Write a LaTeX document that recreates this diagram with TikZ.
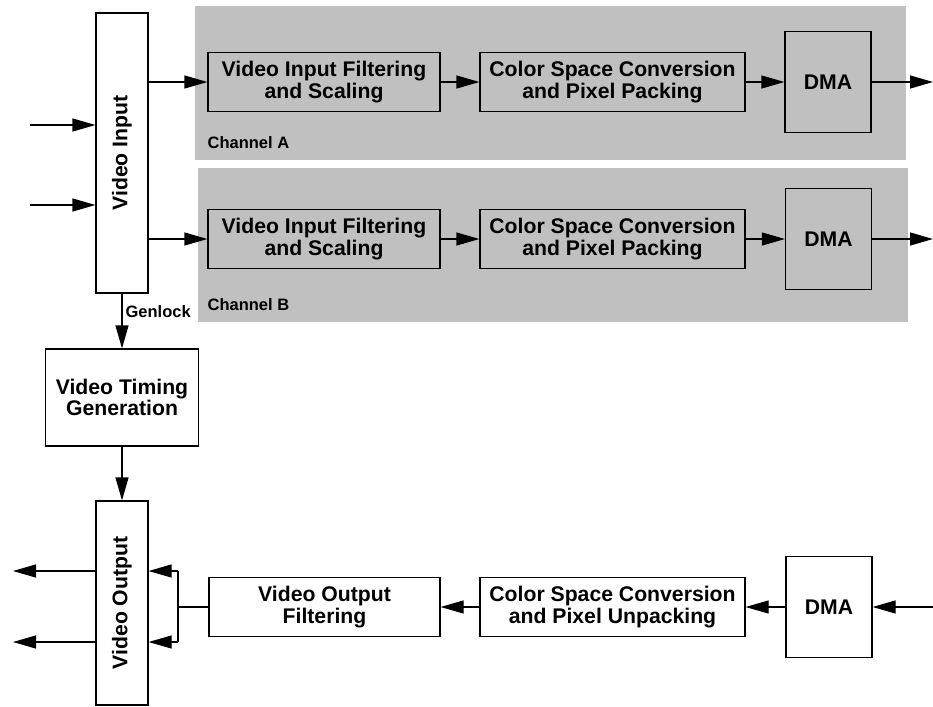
\documentclass[tikz,border=0pt]{standalone}
\usepackage{fontspec}
\setmainfont{Liberation Sans}
\usetikzlibrary{arrows.meta}
\definecolor{changray}{RGB}{192,192,192}

\begin{document}
\begin{tikzpicture}[x=1pt,y=-1pt,>={Triangle[length=23pt,width=13pt]},line width=1.2pt,
    box/.style={draw, rectangle, inner sep=0pt, align=center, font=\bfseries\fontsize{21.2}{21.3}\selectfont},
    chan/.style={fill=changray, rectangle, inner sep=0pt},
    lbl/.style={font=\bfseries\fontsize{16.5}{18}\selectfont, inner sep=0pt}]
        \useasboundingbox (0,0) rectangle (933,706);
        % channel backgrounds
        \node (chA) [chan, minimum width=711, minimum height=154] at (550.5,83) {};
        \node (chB) [chan, minimum width=710, minimum height=154] at (553,245) {};
        \node [lbl, anchor=base west] at (207,148) {Channel A};
        \node [lbl, anchor=base west] at (207,310) {Channel B};

        \node (vin) [box, minimum width=52, minimum height=280] at (122,153) {\rotatebox{90}{Video Input}};
        \node (vifA) [box, minimum width=232, minimum height=59] at (324,82) {Video Input Filtering\\and Scaling};
        \node (cscA) [box, minimum width=265, minimum height=59] at (612.5,82) {Color Space Conversion\\and Pixel Packing};
        \node (dmaA) [box, minimum width=86, minimum height=101] at (828,82) {DMA};
        \node (vifB) [box, minimum width=232, minimum height=59] at (324,239) {Video Input Filtering\\and Scaling};
        \node (cscB) [box, minimum width=265, minimum height=59] at (612.5,239) {Color Space Conversion\\and Pixel Packing};
        \node (dmaB) [box, minimum width=86, minimum height=101] at (828.5,239) {DMA};

        \node (vtg) [box, minimum width=153, minimum height=97] at (122,397.5) {Video Timing\\Generation};
        \node (vout) [box, minimum width=52, minimum height=204] at (122,603) {\rotatebox{90}{Video Output}};
        \node (vof) [box, minimum width=231, minimum height=59] at (324.5,607) {Video Output\\Filtering};
        \node (csc) [box, minimum width=265, minimum height=59] at (612.5,607) {Color Space Conversion\\and Pixel Unpacking};
        \node (dma) [box, minimum width=86, minimum height=101] at (829,607) {DMA};

        % free ends
        \coordinate (inA) at (30,125);
        \coordinate (inB) at (30,205);
        \coordinate (outA) at (933,82);
        \coordinate (outB) at (933,239);
        \coordinate (oA) at (13,571);
        \coordinate (oB) at (13,642);
        \coordinate (brA) at (178,571);
        \coordinate (brB) at (178,642);
        \coordinate (in) at (933,607);

        \draw[->] (inA) -- (inA -| vin.west);
        \draw[->] (inB) -- (inB -| vin.west);
        \draw[->] (vin.east |- vifA.west) -- (vifA.west);
        \draw[->] (vifA) -- (cscA);
        \draw[->] (cscA) -- (dmaA);
        \draw[->] (dmaA) -- (outA);
        \draw[->] (vin.east |- vifB.west) -- (vifB.west);
        \draw[->] (vifB) -- (cscB);
        \draw[->] (cscB) -- (dmaB);
        \draw[->] (dmaB) -- (outB);

        \draw[->] (vin) -- node[lbl, right, pos=0.32, xshift=3pt] {Genlock} (vtg);
        \draw[->] (vtg) -- (vout);

        \draw[->] (in) -- (dma);
        \draw[->] (dma) -- (csc);
        \draw[->] (csc) -- (vof);
        \draw (vof.west) -- (vof.west -| brA);
        \draw (brA) -- (brB);
        \draw[->] (brA) -- (brA -| vout.east);
        \draw[->] (brB) -- (brB -| vout.east);
        \draw[->] (oA -| vout.west) -- (oA);
        \draw[->] (oB -| vout.west) -- (oB);
    \end{tikzpicture}
\end{document}
